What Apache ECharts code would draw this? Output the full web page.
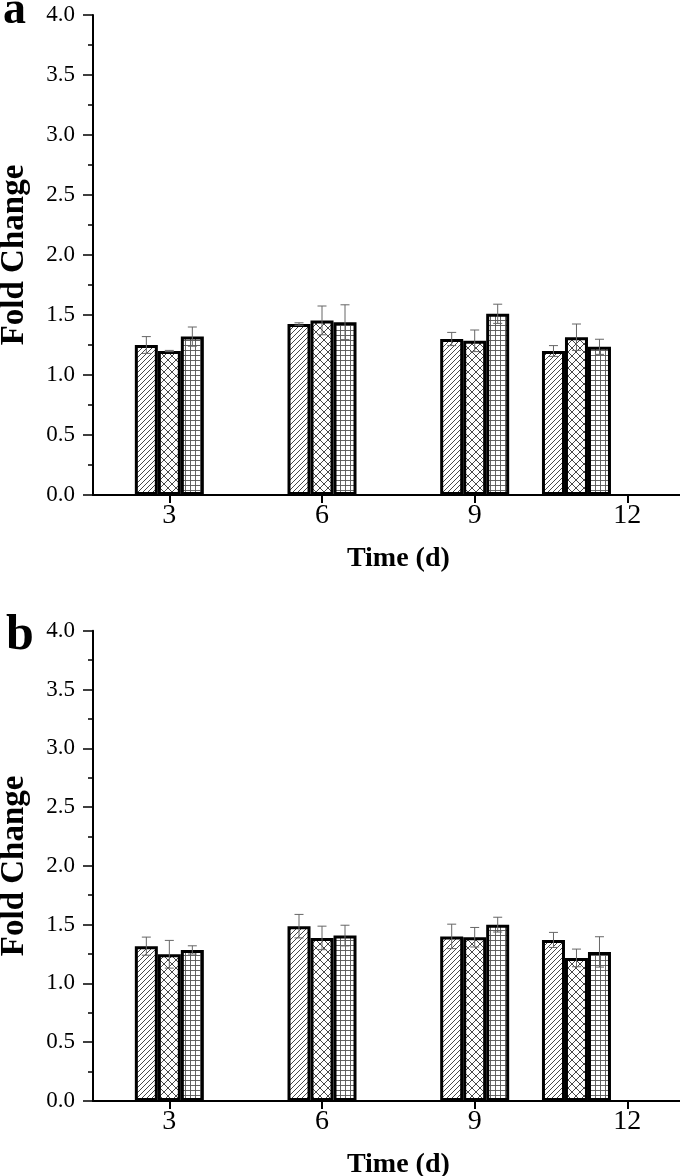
<!DOCTYPE html>
<html><head><meta charset="utf-8">
<script src="https://cdn.jsdelivr.net/npm/echarts@6/dist/echarts.min.js"></script>
<style>html,body{margin:0;padding:0;background:#fff}#c{width:680px;height:1176px}</style>
</head><body><div id="c"></div>
<script>
// ---- data ----
const days = [3, 6, 9, 11];
const xTickValues = [3, 6, 9, 12];
const seriesNames = ['Group 1', 'Group 2', 'Group 3'];
const panelLabels = ['a', 'b'];
// panel a
const aMean1 = [1.25, 1.425, 1.30, 1.20];
const aErr1  = [0.07, 0.01, 0.055, 0.045];
const aMean2 = [1.20, 1.455, 1.285, 1.315];
const aErr2  = [0.005, 0.12, 0.09, 0.11];
const aMean3 = [1.32, 1.44, 1.51, 1.235];
const aErr3  = [0.08, 0.145, 0.08, 0.063];
// panel b
const bMean1 = [1.317, 1.487, 1.40, 1.37];
const bErr1  = [0.077, 0.10, 0.104, 0.064];
const bMean2 = [1.248, 1.387, 1.393, 1.217];
const bErr2  = [0.118, 0.10, 0.083, 0.075];
const bMean3 = [1.285, 1.407, 1.50, 1.268];
const bErr3  = [0.035, 0.088, 0.063, 0.129];

// ---- styles ----
const FONT = '"Liberation Serif","DejaVu Serif",serif';
const BAR_W = 23;
const CAP = 9;
const ERR_COLOR = '#666';

function makePattern(kind) {
  const c = document.createElement('canvas');
  let s;
  if (kind === 0) s = 5; else if (kind === 1) s = 8; else s = 5;
  c.width = s; c.height = s;
  const g = c.getContext('2d');
  g.fillStyle = '#fff'; g.fillRect(0, 0, s, s);
  g.strokeStyle = '#333'; g.lineWidth = 0.9;
  g.beginPath();
  if (kind === 0) {
    g.moveTo(-1, s + 1); g.lineTo(s + 1, -1);
    g.moveTo(-1, 1); g.lineTo(1, -1);
    g.moveTo(s - 1, s + 1); g.lineTo(s + 1, s - 1);
  } else if (kind === 1) {
    g.moveTo(0, 0); g.lineTo(s, s);
    g.moveTo(0, s); g.lineTo(s, 0);
  } else {
    g.strokeStyle = '#555';
    g.moveTo(0.5, 0); g.lineTo(0.5, s);
    g.moveTo(0, 0.5); g.lineTo(s, 0.5);
  }
  g.stroke();
  return { image: c, repeat: 'repeat' };
}
const patterns = [makePattern(0), makePattern(1), makePattern(2)];

const panels = [
  { means: [aMean1, aMean2, aMean3], errs: [aErr1, aErr2, aErr3], top: 15, height: 480,
    label: { left: 3, top: -12, size: 46 } },
  { means: [bMean1, bMean2, bMean3], errs: [bErr1, bErr2, bErr3], top: 630.7, height: 470.3,
    label: { left: 6, top: 611, size: 50 } }
];

function errRender(offset) {
  return function (params, api) {
    const x = api.value(0), m = api.value(1), e = api.value(2);
    const t = api.coord([x, m + e]);
    const b = api.coord([x, m - e]);
    const cx = t[0] + offset;
    const st = { stroke: ERR_COLOR, lineWidth: 1 };
    return {
      type: 'group', children: [
        { type: 'line', shape: { x1: cx, y1: t[1], x2: cx, y2: b[1] }, style: st },
        { type: 'line', shape: { x1: cx - CAP / 2, y1: t[1], x2: cx + CAP / 2, y2: t[1] }, style: st },
        { type: 'line', shape: { x1: cx - CAP / 2, y1: b[1], x2: cx + CAP / 2, y2: b[1] }, style: st }
      ]
    };
  };
}

const grids = [], xAxes = [], yAxes = [], series = [], graphics = [];
panels.forEach((p, pi) => {
  grids.push({ left: 93, top: p.top, height: p.height, width: 610.7, outerBoundsMode: 'none', containLabel: false });
  xAxes.push({
    type: 'value', gridIndex: pi, min: 1.5, max: 13.5,
    name: 'Time (d)', nameLocation: 'middle', nameGap: 50,
    nameTextStyle: { fontFamily: FONT, fontWeight: 'bold', fontSize: 28, color: '#000' },
    axisLine: { show: true, onZero: false, lineStyle: { color: '#000', width: 2 } },
    axisTick: { show: true, length: 8, lineStyle: { color: '#000', width: 2 }, customValues: xTickValues },
    axisLabel: { fontFamily: FONT, fontSize: 28, color: '#000', margin: 7, customValues: xTickValues },
    splitLine: { show: false }
  });
  yAxes.push({
    type: 'value', gridIndex: pi, min: 0, max: 4, interval: 0.5,
    name: 'Fold Change', nameLocation: 'middle', nameGap: 62, nameRotate: 90,
    nameTextStyle: { fontFamily: FONT, fontWeight: 'bold', fontSize: 33, color: '#000' },
    axisLine: { show: true, lineStyle: { color: '#000', width: 2 } },
    axisTick: { show: true, length: 10, lineStyle: { color: '#000', width: 1.5 } },
    minorTick: { show: true, splitNumber: 2, length: 5, lineStyle: { color: '#000', width: 1.5 } },
    axisLabel: { fontFamily: FONT, fontSize: 23, color: '#000', margin: 18, formatter: v => v.toFixed(1) },
    splitLine: { show: false }
  });
  for (let s = 0; s < 3; s++) {
    series.push({
      type: 'bar', name: seriesNames[s], xAxisIndex: pi, yAxisIndex: pi,
      barWidth: BAR_W, barGap: '0%',
      data: days.map((d, i) => [d, p.means[s][i]]),
      itemStyle: { color: patterns[s], borderColor: '#000', borderWidth: 3 },
      emphasis: { disabled: true }, animation: false
    });
  }
  for (let s = 0; s < 3; s++) {
    series.push({
      type: 'custom', xAxisIndex: pi, yAxisIndex: pi, z: 5,
      renderItem: errRender((s - 1) * BAR_W),
      data: days.map((d, i) => [d, p.means[s][i], p.errs[s][i]]),
      animation: false, silent: true
    });
  }
  graphics.push({
    type: 'text', left: p.label.left, top: p.label.top,
    style: { text: panelLabels[pi], font: 'bold ' + p.label.size + 'px ' + FONT, fill: '#000' }
  });
});

const chart = echarts.init(document.getElementById('c'), null, { renderer: 'canvas' });
chart.setOption({
  animation: false,
  backgroundColor: '#fff',
  grid: grids, xAxis: xAxes, yAxis: yAxes, series: series, graphic: graphics
});
</script></body></html>
